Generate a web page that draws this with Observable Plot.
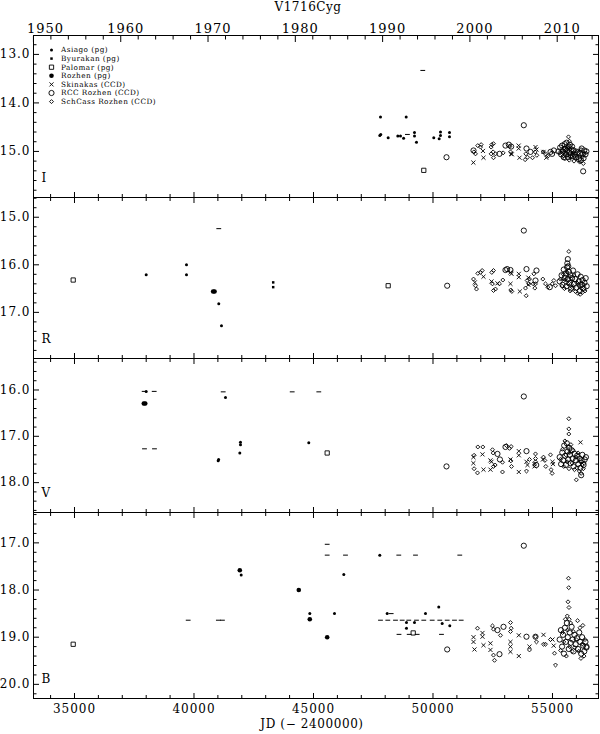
<!DOCTYPE html>
<html><head><meta charset="utf-8">
<script src="https://cdn.jsdelivr.net/npm/d3@7"></script>
<script src="https://cdn.jsdelivr.net/npm/@observablehq/plot@0.6"></script>
<style>
body{margin:0;background:#fff;}
#chart{position:relative;width:600px;height:734px;font-family:"DejaVu Serif",serif;color:#000;background:#fff;}
#chart svg{position:absolute;left:0;overflow:visible;}
.lbl{position:absolute;white-space:nowrap;font-family:"DejaVu Serif",serif;color:#000;}
</style></head><body><div id="chart"></div>
<script>
// ---------------- tick definitions ----------------
const xMajorTicks = [35000, 40000, 45000, 50000, 55000];
const xMinorTicks = [34000, 36000, 37000, 38000, 39000, 41000, 42000, 43000, 44000, 46000, 47000, 48000, 49000, 51000, 52000, 53000, 54000, 56000];
const yearMajor = [1950, 1960, 1970, 1980, 1990, 2000, 2010];
const yearMinor = [1952, 1954, 1956, 1958, 1962, 1964, 1966, 1968, 1972, 1974, 1976, 1978, 1982, 1984, 1986, 1988, 1992, 1994, 1996, 1998, 2002, 2004, 2006, 2008, 2012, 2014];
const bandNames = ["I", "R", "V", "B"];
const legendNames = ["Asiago (pg)", "Byurakan (pg)", "Palomar (pg)", "Rozhen (pg)", "Skinakas (CCD)", "RCC Rozhen (CCD)", "SchCass Rozhen (CCD)"];

// ---------------- data: [JD-2400000, magnitude] ----------------
// I band
const I_asiago = [[47803,14.29],[48879,14.29],[47774,14.67],[47815,14.65],[48125,14.72],[48527,14.68],[48640,14.68],[48770,14.73],[49226,14.61],[49226,14.68],[49309,14.81],[50033,14.72],[50313,14.60],[50313,14.67],[50259,14.74],[50690,14.61],[50690,14.70]];
const I_palomar = [[49615,15.39]];
const I_limit = [[49573,13.33],[48930,14.65]];
const I_skinakas = [[51690,15.23],[52091,14.99],[52113,15.13],[53270,15.05],[53300,15.06],[53585,14.88],[53585,14.94],[53620,15.13],[54289,14.91],[54330,14.96],[54623,15.01],[54740,15.13],[55420,15.02],[55600,14.96],[55880,15.05],[56100,14.98]];
const I_rcc = [[50565,15.12],[51695,14.98],[52782,15.05],[53033,14.88],[53172,14.86],[53270,14.90],[53912,14.94],[54079,15.01],[54916,15.01],[54985,15.05],[55056,14.98],[53800,14.46],[56283,15.41],
 [55250,15.00],[55320,14.92],[55360,15.06],[55400,14.88],[55440,15.00],[55470,15.12],[55510,14.85],[55540,14.95],[55570,15.06],[55590,14.82],[55620,14.98],[55650,15.12],[55680,14.90],[55700,15.02],[55730,14.86],[55760,15.08],[55790,14.96],[55820,14.90],[55850,15.10],[55880,14.98],[55920,15.06],[55980,15.12],[56040,15.02],[56100,15.16],[56150,15.04],[56190,15.18],[56220,14.94],[56260,15.06],[56300,15.14],[56330,14.98],[56380,15.06],[56420,15.00]];
const I_schcass = [[51710,15.01],[51778,15.05],[51873,14.88],[52015,14.86],[51988,14.91],[52461,14.86],[52531,14.84],[52433,14.91],[52517,15.01],[52433,15.05],[52615,15.05],[52531,15.13],[52936,15.03],[53242,15.01],[53214,14.90],[53884,15.05],[53954,15.12],[53856,15.17],[54275,15.01],[54345,15.08],[54163,15.13],[54609,15.01],[54707,15.05],[54804,15.10],
 [55300,15.03],[55380,14.97],[55430,15.10],[55480,14.93],[55520,15.15],[55560,15.02],[55600,14.88],[55640,15.08],[55669,14.70],[55711,14.79],[55700,15.18],[55740,14.95],[55790,15.12],[55840,15.04],[55900,15.20],[55960,14.99],[56020,15.14],[56080,15.06],[56140,15.22],[56190,14.96],[56240,15.12],[56290,15.25],[56330,15.04]];

// R band
const R_asiago = [[38000,16.21],[39686,16.00],[39686,16.21],[41037,16.82],[41150,17.28]];
const R_byurakan = [[43314,16.37],[43314,16.47]];
const R_palomar = [[34946,16.32],[48125,16.44]];
const R_rozhen = [[40800,16.56],[40860,16.56]];
const R_limit = [[41037,15.24]];
const R_skinakas = [[51750,16.37],[52113,16.25],[52447,16.35],[52698,16.39],[53242,16.16],[53284,16.19],[53242,16.40],[53591,16.19],[53591,16.26],[53633,16.56],[53990,16.27],[53990,16.42],[55500,16.30],[55800,16.45],[56100,16.38]];
const R_rcc = [[50594,16.44],[53800,15.28],[53033,16.11],[53103,16.09],[53242,16.11],[53912,16.09],[54330,16.12],[54888,16.47],[54289,16.33],[55641,15.88],[55620,15.97],[55660,16.03],
 [55300,16.35],[55380,16.22],[55420,16.42],[55470,16.10],[55510,16.28],[55550,16.18],[55580,16.45],[55610,16.05],[55650,16.30],[55690,16.15],[55720,16.38],[55750,16.22],[55780,16.50],[55820,16.28],[55860,16.12],[55900,16.40],[55950,16.30],[56000,16.48],[56050,16.20],[56100,16.35],[56140,16.55],[56180,16.25],[56220,16.42],[56260,16.32],[56300,16.50],[56340,16.38],[56390,16.28],[56430,16.45]];
const R_schcass = [[51695,16.30],[51778,16.44],[51820,16.51],[51876,16.18],[51988,16.16],[52057,16.12],[52461,16.16],[52531,16.12],[52489,16.40],[52615,16.51],[52531,16.54],[52782,16.40],[52922,16.32],[53256,16.53],[53298,16.56],[53940,16.33],[54010,16.40],[53870,16.49],[54037,16.30],[54220,16.19],[54289,16.40],[54261,16.49],[54191,16.40],[53900,16.65],[54596,16.30],[54707,16.40],[54804,16.47],[54990,16.40],[55056,16.33],[55126,16.44],
 [55683,15.72],[55330,16.30],[55400,16.45],[55450,16.20],[55500,16.50],[55540,16.32],[55600,16.15],[55640,16.40],[55700,16.25],[55740,16.55],[55800,16.35],[55850,16.48],[55900,16.22],[55960,16.56],[56010,16.38],[56060,16.60],[56110,16.45],[56160,16.62],[56210,16.50],[56250,16.58],[56300,16.42],[56360,16.55]];

// V band
const V_asiago = [[38000,16.03],[41318,16.16],[41012,17.53],[41030,17.50],[41946,17.13],[41946,17.18],[41918,17.36],[44803,17.14]];
const V_palomar = [[45573,17.36]];
const V_rozhen = [[37900,16.29],[37960,16.29]];
const V_limit = [[37915,16.03],[38335,16.03],[37929,17.27],[38347,17.27],[41222,16.04],[44109,16.04],[45222,16.04]];
const V_skinakas = [[51690,17.45],[51690,17.58],[52071,17.39],[52113,17.72],[52405,17.52],[52447,17.55],[52405,17.72],[53242,17.50],[53591,17.32],[53591,17.41],[53591,17.77],[53912,17.55],[53954,17.62],[54247,17.60],[54247,17.65],[54600,17.50],[55000,17.55],[55020,17.60],[56172,17.13]];
const V_rcc = [[50565,17.65],[53800,16.14],[52698,17.38],[52800,17.50],[53033,17.23],[53912,17.32],[54320,17.62],[56200,17.84],
 [55300,17.45],[55360,17.60],[55410,17.35],[55450,17.52],[55490,17.20],[55530,17.42],[55560,17.62],[55600,17.15],[55630,17.33],[55660,17.50],[55700,17.25],[55730,17.40],[55760,17.58],[55800,17.30],[55840,17.48],[55880,17.65],[55930,17.38],[55980,17.52],[56030,17.42],[56080,17.60],[56130,17.48],[56170,17.68],[56210,17.52],[56250,17.40],[56300,17.62],[56350,17.50],[56400,17.45]];
const V_schcass = [[51720,17.41],[51720,17.70],[51862,17.79],[51876,17.23],[52085,17.23],[52489,17.29],[52517,17.36],[52531,17.65],[52600,17.62],[52908,17.56],[52908,17.77],[53075,17.20],[53200,17.26],[53270,17.22],[53256,17.53],[53284,17.65],[54037,17.50],[53912,17.75],[54289,17.38],[54289,17.48],[54289,17.55],[54623,17.45],[54680,17.52],[54720,17.65],[54916,17.40],[54940,17.72],[54985,17.80],[55683,16.62],[55683,16.84],[55683,16.95],[55998,17.94],
 [55330,17.50],[55420,17.28],[55470,17.65],[55520,17.10],[55560,17.40],[55610,17.55],[55650,17.22],[55690,17.70],[55720,17.35],[55770,17.18],[55820,17.58],[55870,17.30],[55920,17.72],[55970,17.45],[56020,17.68],[56070,17.36],[56120,17.75],[56160,17.55],[56200,17.80],[56240,17.62],[56290,17.70],[56330,17.58]];

// B band
const B_asiago = [[41975,17.68],[44845,18.50],[45878,18.50],[46268,17.67],[47774,17.26],[48083,18.50],[48891,18.69],[48891,18.81],[49226,18.69],[49686,18.50],[50242,18.36],[50384,18.71],[50703,18.76]];
const B_palomar = [[34946,19.15],[49172,18.91]];
const B_rozhen = [[41917,17.58],[44385,18.00],[44845,18.62],[45573,19.00]];
const B_limit = [[39757,18.64],[41020,18.64],[41190,18.64],[45573,17.03],[45573,17.26],[46339,17.26],[48569,17.26],[49268,17.26],[51121,17.26],[48250,18.50],
 [47803,18.64],[48109,18.64],[48431,18.64],[48711,18.64],[48987,18.64],[49309,18.64],[49615,18.64],[49966,18.64],[50284,18.64],[50594,18.64],[50899,18.64],[51180,18.64],
 [48578,18.94],[49004,18.94],[49338,18.94],[50355,18.94]];
const B_skinakas = [[51695,19.00],[51695,19.10],[51736,19.26],[52071,18.91],[52071,18.99],[52113,19.17],[52405,19.13],[52405,19.27],[53242,19.10],[53242,19.20],[53242,19.31],[53591,18.96],[53591,19.40],[54037,19.20],[54623,18.95],[55000,19.05],[55050,19.18]];
const B_rcc = [[50594,19.26],[53800,17.06],[52698,18.85],[52782,19.36],[52950,18.78],[53912,18.99],[54289,18.99],[56423,19.20],
 [55300,19.05],[55350,18.85],[55400,19.20],[55440,18.95],[55480,19.35],[55520,18.80],[55560,19.10],[55600,18.70],[55640,19.00],[55680,19.25],[55720,18.90],[55760,19.12],[55800,18.78],[55840,19.05],[55880,19.30],[55920,18.95],[55970,19.15],[56020,19.02],[56070,19.25],[56120,18.90],[56160,19.10],[56200,19.35],[56240,19.00],[56280,19.18],[56330,19.30],[56380,19.10],[56420,19.22]];
const B_schcass = [[51862,18.81],[52489,18.76],[52531,18.83],[52531,19.38],[52573,19.49],[52824,18.96],[53242,18.69],[53270,18.81],[53242,18.88],[54037,19.27],[54289,18.99],[54330,19.10],[54623,19.15],[54707,19.15],[54916,19.05],[55084,19.34],[55126,19.59],
 [55669,17.75],[55680,17.95],[55650,18.25],[55690,18.37],[55620,18.55],[55700,18.62],[55340,19.28],[55420,18.90],[55470,19.10],[55540,18.62],[55580,19.40],[55630,18.85],[55720,19.20],[55760,18.70],[55820,19.30],[55870,18.88],[55930,19.22],[55990,19.05],[56050,18.65],[56100,19.30],[56150,18.80],[56190,19.45],[56230,19.15],[56270,18.75],[56320,19.40],[56360,19.05]];

// ---------------- styles ----------------
const dashSymbol = { draw(ctx) { ctx.moveTo(-2.4, 0); ctx.lineTo(2.4, 0); } };
const STY = {
  asiago:   {symbol: "circle", fill: "black", stroke: "none", r: 1.5},
  byurakan: {symbol: "square", fill: "black", stroke: "none", r: 1.4},
  palomar:  {symbol: "square", fill: "none", stroke: "black", strokeWidth: 0.9, r: 2.4},
  rozhen:   {symbol: "circle", fill: "black", stroke: "none", r: 2.3},
  skinakas: {symbol: "times", fill: "none", stroke: "black", strokeWidth: 0.9, r: 2.0},
  rcc:      {symbol: "circle", fill: "none", stroke: "black", strokeWidth: 0.9, r: 2.6},
  schcass:  {symbol: "diamond2", fill: "none", stroke: "black", strokeWidth: 0.9, r: 1.8},
  limit:    {symbol: dashSymbol, fill: "none", stroke: "black", strokeWidth: 1, r: 2}
};
const legendKeys = ["asiago", "byurakan", "palomar", "rozhen", "skinakas", "rcc", "schcass"];

const panels = [
  {band: "I", top: 0,   height: 200, mt: 35, mb: 3,  y: [12.61, 15.95], yMajor: [13, 14, 15], dy: -16,
   sets: {asiago: I_asiago, palomar: I_palomar, limit: I_limit, skinakas: I_skinakas, rcc: I_rcc, schcass: I_schcass}},
  {band: "R", top: 194, height: 167, mt: 3,  mb: 3,  y: [14.585, 17.97], yMajor: [15, 16, 17], dy: -16,
   sets: {asiago: R_asiago, byurakan: R_byurakan, palomar: R_palomar, rozhen: R_rozhen, limit: R_limit, skinakas: R_skinakas, rcc: R_rcc, schcass: R_schcass}},
  {band: "V", top: 355, height: 160, mt: 3,  mb: 3,  y: [15.32, 18.645], yMajor: [16, 17, 18], dy: -16,
   sets: {asiago: V_asiago, palomar: V_palomar, rozhen: V_rozhen, limit: V_limit, skinakas: V_skinakas, rcc: V_rcc, schcass: V_schcass}},
  {band: "B", top: 509, height: 225, mt: 3,  mb: 36, y: [16.356, 20.3], yMajor: [17, 18, 19, 20], dy: -16,
   sets: {asiago: B_asiago, palomar: B_palomar, rozhen: B_rozhen, limit: B_limit, skinakas: B_skinakas, rcc: B_rcc, schcass: B_schcass}}
];

const X_DOMAIN = [33285, 56925];
const yearToJD = y => 33282.5 + (y - 1950) * 365.25;
const jdToYear = d => Math.round(1950 + (d - 33282.5) / 365.25);
const blank = () => "";
const chart = document.getElementById("chart");

panels.forEach((p, idx) => {
  const yMinor = d3.range(Math.ceil(p.y[0] * 5 - 1e-9), Math.floor(p.y[1] * 5 + 1e-9) + 1).map(k => k / 5).filter(v => !p.yMajor.includes(Math.round(v * 10) / 10));
  const marks = [];
  for (const key of ["limit", "palomar", "byurakan", "asiago", "rozhen", "skinakas", "schcass", "rcc"]) {
    if (p.sets[key]) marks.push(Plot.dot(p.sets[key], {x: d => d[0], y: d => d[1], ...STY[key]}));
  }
  marks.push(Plot.frame({stroke: "black", strokeWidth: 1}));
  marks.push(Plot.axisX({anchor: "bottom", ticks: xMajorTicks, tickSize: -5, tickFormat: blank}));
  marks.push(Plot.axisX({anchor: "bottom", ticks: xMinorTicks, tickSize: -3, tickFormat: blank}));
  if (idx === 0) {
    marks.push(Plot.axisX({anchor: "top", ticks: yearMajor.map(yearToJD), tickSize: -6, tickFormat: blank}));
    marks.push(Plot.axisX({anchor: "top", ticks: yearMinor.map(yearToJD), tickSize: -3.5, tickFormat: blank}));
    marks.push(Plot.axisX({anchor: "top", ticks: yearMajor.slice(1).map(yearToJD), tickSize: 0, tickPadding: 3, dx: 5, fontSize: 13, tickFormat: d => String(jdToYear(d))}));
    marks.push(Plot.axisX({anchor: "top", ticks: [yearToJD(1950)], tickSize: 0, tickPadding: 3, dx: 12, fontSize: 13, tickFormat: d => String(jdToYear(d))}));
  } else {
    marks.push(Plot.axisX({anchor: "top", ticks: xMajorTicks, tickSize: -5, tickFormat: blank}));
    marks.push(Plot.axisX({anchor: "top", ticks: xMinorTicks, tickSize: -3, tickFormat: blank}));
  }
  if (idx === 3) {
    marks.push(Plot.axisX({anchor: "bottom", ticks: xMajorTicks, tickSize: 0, tickPadding: 6, fontSize: 12, tickFormat: d => String(d)}));
  }
  marks.push(Plot.axisY({anchor: "left", ticks: p.yMajor, tickSize: -6, tickFormat: blank}));
  marks.push(Plot.axisY({anchor: "left", ticks: yMinor, tickSize: -3.5, tickFormat: blank}));
  marks.push(Plot.axisY({anchor: "right", ticks: p.yMajor, tickSize: -6, tickFormat: blank}));
  marks.push(Plot.axisY({anchor: "right", ticks: yMinor, tickSize: -3.5, tickFormat: blank}));
  marks.push(Plot.axisY({anchor: "left", ticks: p.yMajor, tickSize: 0, tickPadding: 3, fontSize: 12, tickFormat: d3.format(".1f")}));
  marks.push(Plot.text([p.band], {text: d => d, frameAnchor: "bottom-left", textAnchor: "start", dx: 8, dy: p.dy, fontSize: 12}));

  const svg = Plot.plot({
    width: 600, height: p.height,
    marginLeft: 33, marginRight: 2, marginTop: p.mt, marginBottom: p.mb,
    x: {domain: X_DOMAIN, label: null},
    y: {domain: p.y, reverse: true, label: null},
    style: {background: "transparent", fontFamily: "DejaVu Serif", fontSize: "12px", color: "black", overflow: "visible"},
    marks
  });
  svg.style.top = p.top + "px";
  svg.style.position = "absolute";
  svg.querySelectorAll('g[aria-label="x-axis tick label"] text, g[aria-label="y-axis tick label"] text').forEach(t => t.setAttribute("letter-spacing", "1"));
  if (idx === 0) {
    const g = d3.select(svg).append("g").attr("font-family", "DejaVu Serif").attr("font-size", 7.3).attr("letter-spacing", "0.45").attr("text-anchor", "start");
    legendKeys.forEach((k, i) => {
      const s = STY[k];
      const type = {circle: d3.symbolCircle, square: d3.symbolSquare, times: d3.symbolTimes, diamond2: d3.symbolDiamond2}[s.symbol];
      const y = 50 + i * 8.6;
      g.append("path").attr("transform", `translate(51.5,${y})`)
        .attr("d", d3.symbol(type, s.r * s.r * Math.PI)())
        .attr("fill", s.fill).attr("stroke", s.stroke).attr("stroke-width", s.strokeWidth || 0);
      g.append("text").attr("x", 61).attr("y", y).attr("dy", "0.32em").attr("text-anchor", "start").text(legendNames[i]);
    });
  }
  chart.appendChild(svg);
});

const title = document.createElement("div");
title.className = "lbl";
title.style.cssText += "left:0;width:616px;top:0px;text-align:center;font-size:12px;letter-spacing:0.5px;";
title.textContent = "V1716Cyg";
chart.appendChild(title);
const xl = document.createElement("div");
xl.className = "lbl";
xl.style.cssText += "left:0;width:624px;top:717px;text-align:center;font-size:12px;letter-spacing:0.6px;";
xl.textContent = "JD (− 2400000)";
chart.appendChild(xl);
</script></body></html>
